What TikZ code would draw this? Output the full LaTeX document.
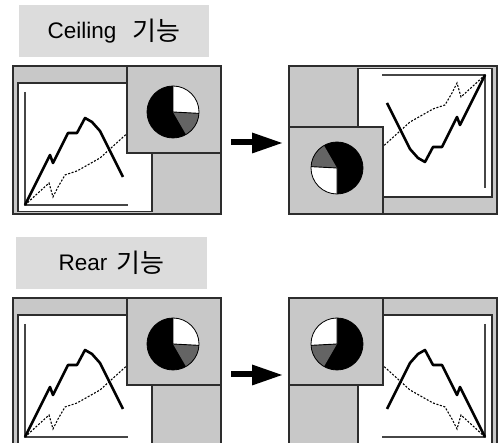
\documentclass[tikz,border=0pt]{standalone}
\usepackage{fontspec}
\newfontfamily\lat{Liberation Sans}
\newfontfamily\cjk{Noto Sans CJK KR}
\definecolor{panelgray}{RGB}{200,200,200}
\definecolor{labelgray}{RGB}{220,220,220}
\definecolor{slicegray}{RGB}{100,100,100}
\definecolor{edgecol}{RGB}{45,45,45}
\definecolor{axiscol}{RGB}{70,70,70}
\tikzset{
  edgeline/.style={draw=edgecol, line width=1.3pt},
  axisline/.style={draw=axiscol, line width=1.2pt},
  solidcurve/.style={draw=black, line width=2.6pt, line join=round},
  dotcurve/.style={draw=black, line width=1.1pt, dash pattern=on 2pt off 1.6pt},
  labelbox/.style={fill=labelgray, inner sep=0pt, text height=15.5pt, text depth=0pt,
    font=\fontsize{22.5}{24}\selectfont},
}
\newcommand\drawpanel{%
  \fill[panelgray] (13,66) rectangle (221,214);
  \draw[edgeline] (13,66) rectangle (221,214);
  \filldraw[fill=white, edgeline] (18,83) rectangle (152,211.5);
  \draw[axisline] (25,92) -- (25,205) -- (128,205);
  \draw[dotcurve] (25,205) -- (49,183) -- (53,197) -- (58,187) -- (65,175) -- (77,171) -- (100,158) -- (132,129);
  \draw[solidcurve] (25,205) -- (50,155) -- (53,163) -- (68,133) -- (77,133) -- (85,118) -- (92,122) -- (100,131) -- (123,177);
  \filldraw[fill=panelgray, edgeline] (127,66) rectangle (221,153);
  \fill[black] (173,112) circle[radius=26];
  \fill[white] (173,112) -- ++(-90:26) arc[start angle=-90, end angle=3, radius=26] -- cycle;
  \fill[slicegray] (173,112) -- ++(3:26) arc[start angle=3, end angle=60, radius=26] -- cycle;
  \draw[black, line width=0.8pt] (173,112) circle[radius=26];
  \draw[black, line width=0.9pt] (173,112) -- ++(-90:26) (173,112) -- ++(3:26);
}
\newcommand\drawarrow{%
  \fill[black] (231,139) rectangle (253,145.5);
  \fill[black] (252,132.5) -- (282,143) -- (252,153.5) -- cycle;
}
\begin{document}
\begin{tikzpicture}[x=1pt, y=-1pt]
  \useasboundingbox (0,0) rectangle (499,443);
  \clip (0,0) rectangle (499,443);
  \fill[white] (0,0) rectangle (499,443);
  % labels
  \node[labelbox, minimum width=190pt, minimum height=52pt] (ceiling) at (114,31)
    {{\lat Ceiling}\hspace{16pt}\raisebox{-2pt}{\cjk\fontsize{26}{28}\selectfont 기능}};
  \node[labelbox, minimum width=191pt, minimum height=52pt] (rear) at (111.5,263)
    {{\lat Rear}\hspace{9pt}\raisebox{-2pt}{\cjk\fontsize{26}{28}\selectfont 기능}};
  % top row
  \begin{scope}\drawpanel\end{scope}
  \begin{scope}[cm={-1,0,0,-1,(510pt,-280pt)}]\drawpanel\end{scope}
  \drawarrow
  % bottom row
  \begin{scope}[yshift=-232pt]\drawpanel\drawarrow\end{scope}
  \begin{scope}[cm={-1,0,0,1,(510pt,-232pt)}]\drawpanel\end{scope}
\end{tikzpicture}
\end{document}
